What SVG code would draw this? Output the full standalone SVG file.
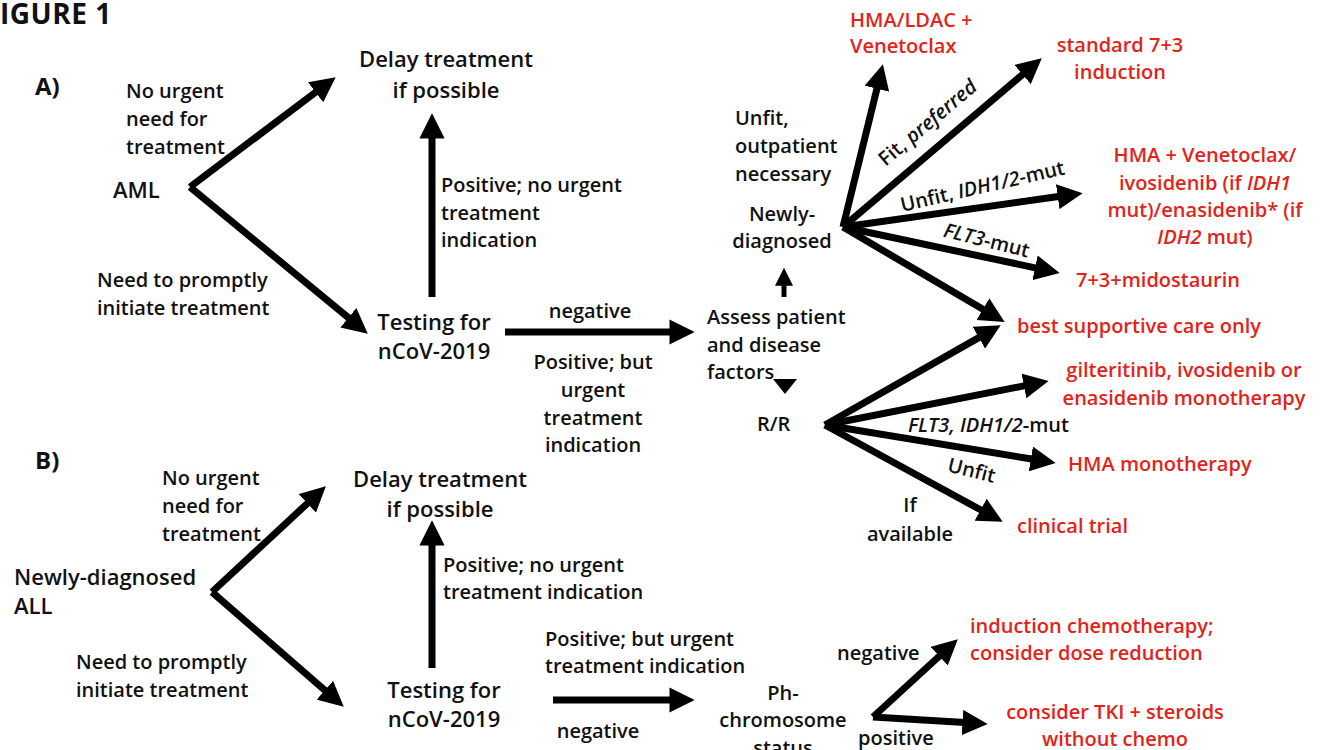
<svg xmlns="http://www.w3.org/2000/svg" width="1323" height="750" viewBox="0 0 1323 750">
<style>
text{font-family:"Open Sans",Lato,"Liberation Sans",sans-serif;font-weight:600;font-size:20px;fill:#111}
.big{font-size:22px}
.pl{font-size:24px;font-weight:700}
.r{fill:#e2231a}
.m{text-anchor:middle}
.i{font-style:italic}
.arr{stroke:#000;stroke-width:7;fill:none;marker-end:url(#ah)}
</style>
<defs>
<marker id="ah" viewBox="0 0 10 10" refX="1" refY="5" markerWidth="3.6" markerHeight="3.6" markerUnits="strokeWidth" orient="auto">
<path d="M0,0 L10,5 L0,10 z" fill="#000"/>
</marker>
</defs>
<rect width="1323" height="750" fill="#fff"/>
<text x="0" y="24" style="font-size:28px;font-weight:700;letter-spacing:0.5px">IGURE 1</text>

<g id="connectors">
<path class="arr" d="M190,187 L317.6,90.8"/>
<path class="arr" d="M190,187 L350.3,319.3"/>
<path class="arr" d="M432,297 L432,136"/>
<path class="arr" d="M505,332 L672,332"/>
<path class="arr" style="stroke-width:5" d="M784,297 L784,284"/>
<path d="M773,379 L797,379 L785,394 z" fill="#000"/>
<path class="arr" d="M843,227 L877.5,86.3"/>
<path class="arr" d="M843,227 L1024.5,72.9"/>
<path class="arr" d="M843,227 L1060.2,196.3"/>
<path class="arr" d="M843,227 L1037.5,268.3"/>
<path class="arr" d="M843,227 L985.1,310.5"/>
<path class="arr" d="M825,425 L981,336.4"/>
<path class="arr" d="M825,425 L1026.4,385.4"/>
<path class="arr" d="M825,425 L1033.3,459.3"/>
<path class="arr" d="M825,425 L982.8,511"/>
<path class="arr" d="M212,592 L309.2,501.7"/>
<path class="arr" d="M212,592 L326.7,691.9"/>
<path class="arr" d="M432,668 L432,543"/>
<path class="arr" d="M553,700 L672,700"/>
<path class="arr" d="M873,717 L941.1,654.5"/>
<path class="arr" d="M873,717 L965,722.6"/>
</g>

<g id="labels">
<text x="126" y="98">No urgent</text><text x="126" y="126">need for</text><text x="126" y="154">treatment</text>
<text x="97" y="287">Need to promptly</text><text x="97" y="315">initiate treatment</text>
<text x="441" y="192">Positive; no urgent</text><text x="441" y="220">treatment</text><text x="441" y="247">indication</text>
<text class="m" x="590" y="318">negative</text>
<text class="m" x="593" y="369">Positive; but</text><text class="m" x="593" y="397">urgent</text><text class="m" x="593" y="425">treatment</text><text class="m" x="593" y="452">indication</text>
<text x="735" y="125">Unfit,</text><text x="735" y="153">outpatient</text><text x="735" y="181">necessary</text>
<text transform="translate(932,128) rotate(-40)" class="m">Fit, <tspan class="i">preferred</tspan></text>
<text transform="translate(984,193) rotate(-13)" class="m">Unfit, <tspan class="i">IDH1/2</tspan>-mut</text>
<text transform="translate(985,247) rotate(14)" class="m"><tspan class="i">FLT3</tspan>-mut</text>
<text x="908" y="432"><tspan class="i">FLT3, IDH1/2</tspan>-mut</text>
<text transform="translate(970,477) rotate(14)" class="m">Unfit</text>
<text class="m" x="910" y="512">If</text><text class="m" x="910" y="541">available</text>
<text x="162" y="485">No urgent</text><text x="162" y="513">need for</text><text x="162" y="541">treatment</text>
<text x="76" y="669">Need to promptly</text><text x="76" y="697">initiate treatment</text>
<text x="443" y="572">Positive; no urgent</text><text x="443" y="599">treatment indication</text>
<text x="545" y="646">Positive; but urgent</text><text x="545" y="673">treatment indication</text>
<text class="m" x="598" y="738">negative</text>
<text x="837" y="660">negative</text>
<text x="858" y="745">positive</text>
</g>

<g id="panelA"><text class="pl" x="35" y="95">A)</text></g>
<g id="panelB"><text class="pl" x="35" y="469">B)</text></g>

<g id="aml"><text class="big" x="113" y="198">AML</text></g>
<g id="delayA"><text class="big m" x="446" y="67">Delay treatment</text><text class="big m" x="446" y="98">if possible</text></g>
<g id="testA"><text class="big m" x="434" y="330">Testing for</text><text class="big m" x="434" y="359">nCoV-2019</text></g>
<g id="assess"><text x="707" y="324">Assess patient</text><text x="707" y="352">and disease</text><text x="707" y="379">factors</text></g>
<g id="newly"><text class="m" x="782" y="221">Newly-</text><text class="m" x="782" y="248">diagnosed</text></g>
<g id="rr"><text x="757" y="431">R/R</text></g>

<g id="hmaLdac"><text class="r" x="850" y="27">HMA/LDAC +</text><text class="r" x="850" y="53">Venetoclax</text></g>
<g id="std73"><text class="r m" x="1120" y="52">standard 7+3</text><text class="r m" x="1120" y="79">induction</text></g>
<g id="hmaVen"><text class="r m" x="1205" y="162">HMA + Venetoclax/</text><text class="r m" x="1205" y="190">ivosidenib (if <tspan class="i">IDH1</tspan></text><text class="r m" x="1205" y="217">mut)/enasidenib* (if</text><text class="r m" x="1205" y="244"><tspan class="i">IDH2</tspan> mut)</text></g>
<g id="mido"><text class="r" x="1076" y="287">7+3+midostaurin</text></g>
<g id="bsc"><text class="r" x="1017" y="333">best supportive care only</text></g>
<g id="gilt"><text class="r m" x="1184" y="377">gilteritinib, ivosidenib or</text><text class="r m" x="1184" y="405">enasidenib monotherapy</text></g>
<g id="hmaMono"><text class="r" x="1068" y="471">HMA monotherapy</text></g>
<g id="trial"><text class="r" x="1017" y="533">clinical trial</text></g>

<g id="all"><text class="big" x="14" y="585">Newly-diagnosed</text><text class="big" x="14" y="614">ALL</text></g>
<g id="delayB"><text class="big m" x="440" y="487">Delay treatment</text><text class="big m" x="440" y="517">if possible</text></g>
<g id="testB"><text class="big m" x="444" y="698">Testing for</text><text class="big m" x="444" y="727">nCoV-2019</text></g>
<g id="ph"><text class="m" x="783" y="700">Ph-</text><text class="m" x="783" y="727">chromosome</text><text class="m" x="783" y="755">status</text></g>
<g id="induction"><text class="r" x="970" y="633">induction chemotherapy;</text><text class="r" x="970" y="660">consider dose reduction</text></g>
<g id="tki"><text class="r m" x="1115" y="719">consider TKI + steroids</text><text class="r m" x="1115" y="746">without chemo</text></g>
</svg>
